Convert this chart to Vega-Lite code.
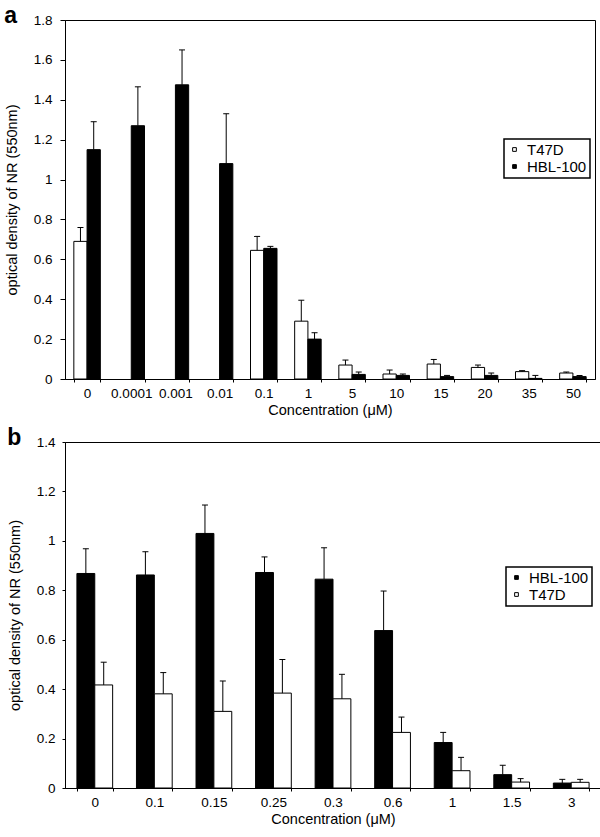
{
  "$schema": "https://vega.github.io/schema/vega-lite/v6.json",
  "padding": {"left": 3, "top": 4, "right": 0, "bottom": 0},
  "background": "white",
  "align": "none",
  "spacing": 8,
  "config": {
    "font": "Liberation Sans",
    "view": {"stroke": "black", "strokeWidth": 1},
    "axis": {"domainColor": "black", "tickColor": "black", "labelColor": "black", "titleColor": "black", "labelFont": "Liberation Sans", "titleFont": "Liberation Sans", "labelFontSize": 13.5, "titleFontSize": 14.5, "titleFontWeight": "normal", "grid": false, "labelOverlap": false},
    "axisX": {"tickBand": "extent", "tickSize": 3, "labelPadding": 4, "labelAngle": 0, "titlePadding": 4},
    "legend": {"orient": "none", "strokeColor": "black", "strokeWidth": 1.5, "padding": 3, "labelFont": "Liberation Sans", "labelFontSize": 15, "labelColor": "black", "symbolType": "square", "symbolSize": 14, "symbolStrokeColor": "black", "symbolStrokeWidth": 1, "labelOffset": 5, "rowPadding": 1, "title": null, "fillColor": "white"},
    "title": {"font": "Liberation Sans", "fontSize": 23, "fontWeight": "bold", "color": "black", "anchor": "start", "frame": "bounds", "offset": 0}
  },
  "datasets": {
    "a": [
      {"conc": "0", "cell": "T47D", "od": 0.69, "err": 0.76},
      {"conc": "0", "cell": "HBL-100", "od": 1.15, "err": 1.29},
      {"conc": "0.0001", "cell": "HBL-100", "od": 1.27, "err": 1.465},
      {"conc": "0.001", "cell": "HBL-100", "od": 1.475, "err": 1.65},
      {"conc": "0.01", "cell": "HBL-100", "od": 1.08, "err": 1.33},
      {"conc": "0.1", "cell": "T47D", "od": 0.645, "err": 0.715},
      {"conc": "0.1", "cell": "HBL-100", "od": 0.655, "err": 0.665},
      {"conc": "1", "cell": "T47D", "od": 0.29, "err": 0.395},
      {"conc": "1", "cell": "HBL-100", "od": 0.2, "err": 0.232},
      {"conc": "5", "cell": "T47D", "od": 0.07, "err": 0.095},
      {"conc": "5", "cell": "HBL-100", "od": 0.023, "err": 0.035},
      {"conc": "10", "cell": "T47D", "od": 0.025, "err": 0.045},
      {"conc": "10", "cell": "HBL-100", "od": 0.018, "err": 0.025},
      {"conc": "15", "cell": "T47D", "od": 0.075, "err": 0.098},
      {"conc": "15", "cell": "HBL-100", "od": 0.012, "err": 0.018},
      {"conc": "20", "cell": "T47D", "od": 0.058, "err": 0.07},
      {"conc": "20", "cell": "HBL-100", "od": 0.018, "err": 0.03},
      {"conc": "35", "cell": "T47D", "od": 0.037, "err": 0.042},
      {"conc": "35", "cell": "HBL-100", "od": 0.003, "err": 0.018},
      {"conc": "50", "cell": "T47D", "od": 0.03, "err": 0.035},
      {"conc": "50", "cell": "HBL-100", "od": 0.012, "err": 0.017}
    ],
    "b": [
      {"conc": "0", "cell": "HBL-100", "od": 0.868, "err": 0.968},
      {"conc": "0", "cell": "T47D", "od": 0.417, "err": 0.509},
      {"conc": "0.1", "cell": "HBL-100", "od": 0.862, "err": 0.956},
      {"conc": "0.1", "cell": "T47D", "od": 0.381, "err": 0.467},
      {"conc": "0.15", "cell": "HBL-100", "od": 1.03, "err": 1.145},
      {"conc": "0.15", "cell": "T47D", "od": 0.31, "err": 0.433},
      {"conc": "0.25", "cell": "HBL-100", "od": 0.872, "err": 0.935},
      {"conc": "0.25", "cell": "T47D", "od": 0.384, "err": 0.52},
      {"conc": "0.3", "cell": "HBL-100", "od": 0.845, "err": 0.972},
      {"conc": "0.3", "cell": "T47D", "od": 0.361, "err": 0.46},
      {"conc": "0.6", "cell": "HBL-100", "od": 0.637, "err": 0.797},
      {"conc": "0.6", "cell": "T47D", "od": 0.225, "err": 0.287},
      {"conc": "1", "cell": "HBL-100", "od": 0.184, "err": 0.225},
      {"conc": "1", "cell": "T47D", "od": 0.07, "err": 0.124},
      {"conc": "1.5", "cell": "HBL-100", "od": 0.054, "err": 0.092},
      {"conc": "1.5", "cell": "T47D", "od": 0.024, "err": 0.038},
      {"conc": "3", "cell": "HBL-100", "od": 0.02, "err": 0.035},
      {"conc": "3", "cell": "T47D", "od": 0.023, "err": 0.035}
    ]
  },
  "vconcat": [
    {
      "width": 530,
      "height": 359,
      "title": {"text": "a", "dy": 19},
      "data": {"name": "a"},
      "encoding": {
        "x": {"field": "conc", "type": "nominal", "sort": ["0", "0.0001", "0.001", "0.01", "0.1", "1", "5", "10", "15", "20", "35", "50"], "scale": {"paddingInner": 0.4, "paddingOuter": 0.2}, "axis": {"title": "Concentration (μM)"}},
        "xOffset": {"field": "cell", "type": "nominal", "scale": {"domain": ["T47D", "HBL-100"]}}
      },
      "layer": [
        {
          "mark": {"type": "bar", "stroke": "black", "strokeWidth": 1},
          "encoding": {
            "y": {"field": "od", "type": "quantitative", "scale": {"domain": [0, 1.8]}, "axis": {"title": "optical density of NR (550nm)", "values": [0, 0.2, 0.4, 0.6, 0.8, 1, 1.2, 1.4, 1.6, 1.8], "tickCount": 12, "format": "~g", "tickSize": 5, "labelPadding": 8, "titlePadding": 14, "labelOverlap": false}},
            "fill": {"field": "cell", "type": "nominal", "scale": {"domain": ["T47D", "HBL-100"], "range": ["white", "black"]}, "legend": {"legendX": 439, "legendY": 119}}
          }
        },
        {
          "mark": {"type": "rule", "color": "black", "strokeWidth": 1},
          "encoding": {"y": {"field": "od", "type": "quantitative"}, "y2": {"field": "err"}}
        },
        {
          "mark": {"type": "tick", "color": "black", "thickness": 1, "size": 6, "opacity": 1},
          "encoding": {"y": {"field": "err", "type": "quantitative"}}
        }
      ]
    },
    {
      "width": 536,
      "height": 346,
      "title": {"text": "b", "dy": 19},
      "data": {"name": "b"},
      "encoding": {
        "x": {"field": "conc", "type": "nominal", "sort": ["0", "0.1", "0.15", "0.25", "0.3", "0.6", "1", "1.5", "3"], "scale": {"paddingInner": 0.4, "paddingOuter": 0.2}, "axis": {"title": "Concentration (μM)"}},
        "xOffset": {"field": "cell", "type": "nominal", "scale": {"domain": ["HBL-100", "T47D"]}}
      },
      "layer": [
        {
          "mark": {"type": "bar", "stroke": "black", "strokeWidth": 1},
          "encoding": {
            "y": {"field": "od", "type": "quantitative", "scale": {"domain": [0, 1.4]}, "axis": {"title": "optical density of NR (550nm)", "values": [0, 0.2, 0.4, 0.6, 0.8, 1, 1.2, 1.4], "tickCount": 10, "format": "~g", "tickSize": 3, "labelPadding": 7, "titlePadding": 14, "labelOverlap": false}},
            "fill": {"field": "cell", "type": "nominal", "scale": {"domain": ["HBL-100", "T47D"], "range": ["black", "white"]}, "legend": {"legendX": 441, "legendY": 125}}
          }
        },
        {
          "mark": {"type": "rule", "color": "black", "strokeWidth": 1},
          "encoding": {"y": {"field": "od", "type": "quantitative"}, "y2": {"field": "err"}}
        },
        {
          "mark": {"type": "tick", "color": "black", "thickness": 1, "size": 6, "opacity": 1},
          "encoding": {"y": {"field": "err", "type": "quantitative"}}
        }
      ]
    }
  ],
  "resolve": {"scale": {"fill": "independent", "y": "independent", "x": "independent", "xOffset": "independent"}}
}
